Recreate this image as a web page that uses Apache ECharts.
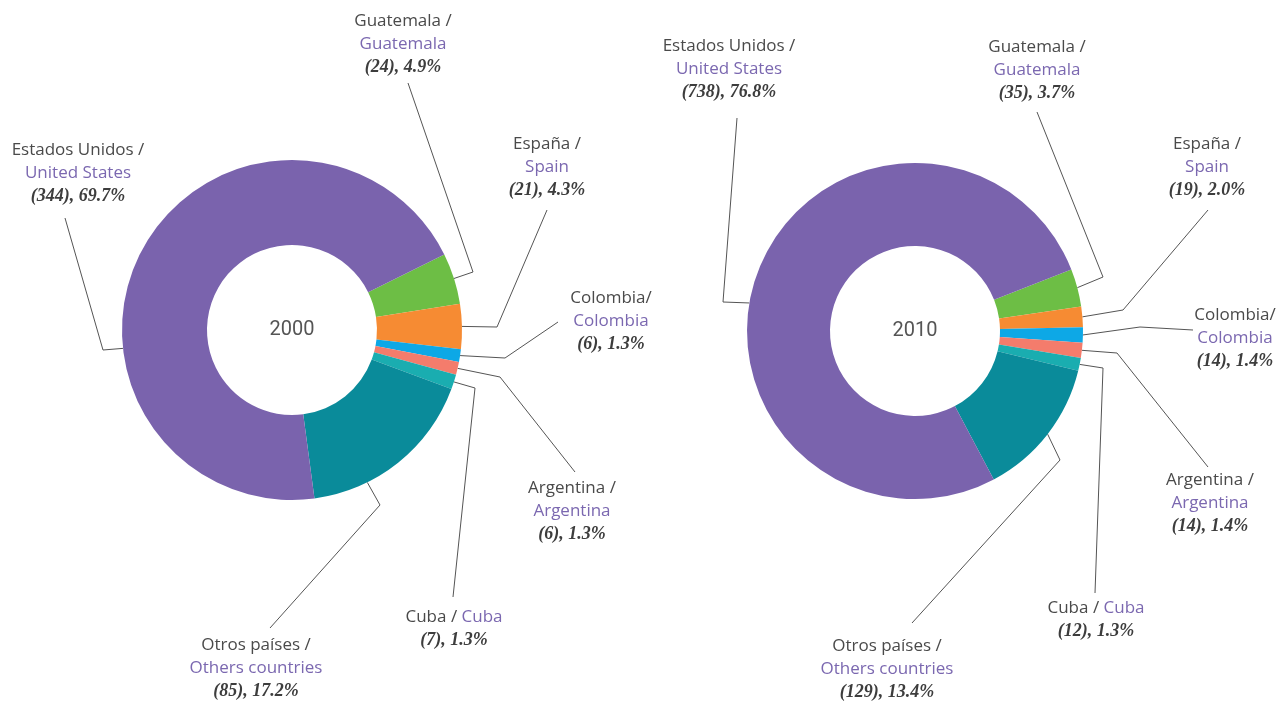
<!DOCTYPE html>
<html>
<head>
<meta charset="utf-8">
<script src="https://cdn.jsdelivr.net/npm/echarts@6/dist/echarts.min.js"></script>
<style>
  html, body { margin: 0; padding: 0; background: #fff; }
  #chart { width: 1278px; height: 702px; }
</style>
</head>
<body>
<div id="chart"></div>
<script>
// slice order, clockwise from the start angle
const namesEs = ['Guatemala /', 'España /', 'Colombia/', 'Argentina /', 'Cuba / ', 'Otros países /', 'Estados Unidos /'];
const namesEn = ['Guatemala', 'Spain', 'Colombia', 'Argentina', 'Cuba', 'Others countries', 'United States'];
const values2000 = [24, 21, 6, 6, 7, 85, 344];
const values2010 = [35, 19, 14, 14, 12, 129, 738];
const pct2000 = ['4.9', '4.3', '1.3', '1.3', '1.3', '17.2', '69.7'];
const pct2010 = ['3.7', '2.0', '1.4', '1.4', '1.3', '13.4', '76.8'];
const years = ['2000', '2010'];

const colors = ['#6dbe45', '#f68b33', '#0da8e6', '#f47c6c', '#1aadb0', '#0a8b9a', '#7a63ad'];

// pie geometry
const pies = [
  { center: [292, 330], radius: [85, 170], startAngle: 26.4 },
  { center: [915, 331], radius: [85, 168], startAngle: 21.5 }
];

// label block centre, leader elbow + end, optional start angle on the rim
const labelPos = [
  [
    { x: 403, y: 44,  line: [[473, 272], [408, 83]] },
    { x: 547, y: 167, line: [[497, 327], [547, 210]] },
    { x: 611, y: 321, line: [[505, 358], [558, 322]] },
    { x: 572, y: 511, line: [[500, 377], [575, 472]] },
    { x: 454, y: 629, line: [[475, 388], [453, 597]] },
    { x: 256, y: 668, line: [[380, 505], [270, 628]], angle: -63.7 },
    { x: 78,  y: 173, line: [[103, 350], [65, 218]], angle: 186.2 }
  ],
  [
    { x: 1037, y: 70,  line: [[1103, 277], [1037, 112]] },
    { x: 1207, y: 167, line: [[1123, 310], [1208, 210]] },
    { x: 1235, y: 338, line: [[1140, 327], [1193, 330]] },
    { x: 1210, y: 503, line: [[1117, 353], [1208, 467]] },
    { x: 1096, y: 620, line: [[1103, 368], [1095, 593]] },
    { x: 887,  y: 669, line: [[1060, 460], [912, 623]] },
    { x: 729,  y: 69,  line: [[723, 302], [737, 118]], angle: 170.4 }
  ]
];

const rich = {
  a: { color: '#4a4a4a', fontSize: 17, fontFamily: 'Open Sans', lineHeight: 23 },
  b: { color: '#7b68b0', fontSize: 17, fontFamily: 'Open Sans', lineHeight: 23 },
  c: { color: '#3d3d3d', fontSize: 18, fontFamily: 'Liberation Serif', fontStyle: 'italic', fontWeight: 'bold', lineHeight: 23 }
};

function makeSeries(idx, values, pcts) {
  const p = pies[idx];
  return {
    type: 'pie',
    center: p.center,
    radius: p.radius,
    startAngle: p.startAngle,
    clockwise: true,
    avoidLabelOverlap: false,
    silent: true,
    data: values.map((v, i) => ({
      value: v,
      name: namesEn[i],
      itemStyle: { color: colors[i] }
    })),
    label: {
      show: true,
      position: 'outside',
      rich: rich,
      formatter: params => {
        const i = params.dataIndex;
        const last = '{c|(' + values[i] + '), ' + pcts[i] + '%}';
        if (namesEn[i] === 'Cuba') {
          return '{a|' + namesEs[i] + '}{b|' + namesEn[i] + '}\n' + last;
        }
        return '{a|' + namesEs[i] + '}\n{b|' + namesEn[i] + '}\n' + last;
      }
    },
    labelLine: {
      show: true,
      length: 10,
      length2: 10,
      lineStyle: { color: '#555', width: 1 }
    },
    labelLayout: params => {
      const pos = labelPos[params.seriesIndex][params.dataIndex];
      let start;
      if (pos.angle !== undefined) {
        const a = pos.angle * Math.PI / 180;
        start = [p.center[0] + p.radius[1] * Math.cos(a), p.center[1] - p.radius[1] * Math.sin(a)];
      } else {
        start = params.labelLinePoints[0];
      }
      return {
        x: pos.x,
        y: pos.y,
        align: 'center',
        verticalAlign: 'middle',
        labelLinePoints: [start, pos.line[0], pos.line[1]]
      };
    }
  };
}

const chart = echarts.init(document.getElementById('chart'));
chart.setOption({
  backgroundColor: '#fff',
  animation: false,
  graphic: pies.map((p, i) => ({
    type: 'text',
    x: p.center[0],
    y: p.center[1],
    style: {
      text: years[i],
      fill: '#555',
      font: '20px Roboto',
      textAlign: 'center',
      textVerticalAlign: 'middle'
    }
  })),
  series: [
    makeSeries(0, values2000, pct2000),
    makeSeries(1, values2010, pct2010)
  ]
});
</script>
</body>
</html>
